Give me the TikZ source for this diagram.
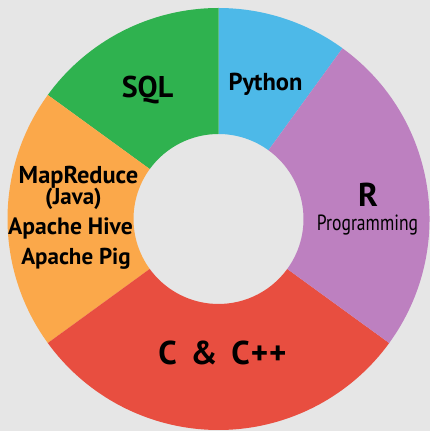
\documentclass[tikz,border=0pt]{standalone}
\usepackage{fontspec}
\setmainfont{PT Sans}
\definecolor{bg}{HTML}{E6E6E6}
\definecolor{cgreen}{HTML}{2FB24F}
\definecolor{cblue}{HTML}{4DB9E8}
\definecolor{cpurple}{HTML}{BD80C0}
\definecolor{cred}{HTML}{E84E40}
\definecolor{corange}{HTML}{FBA84A}
\tikzset{
  lbl/.style={anchor=base, inner sep=0pt, text=black, font=\bfseries},
}
\newcommand{\donutslice}[3]{%
  \fill[#1] (#2:211pt) arc[start angle=#2, end angle=#3, radius=211pt]
    -- (#3:85pt) arc[start angle=#3, end angle=#2, radius=85pt] -- cycle;}
\begin{document}
\begin{tikzpicture}[x=1pt,y=1pt]
\fill[bg] (0,0) rectangle (430,431);
\useasboundingbox (0,0) rectangle (430,431);
\begin{scope}[shift={(218.5,212)}]
  \donutslice{cblue}{54}{90}
  \donutslice{cgreen}{90}{144}
  \donutslice{corange}{144}{216}
  \donutslice{cred}{216}{324}
  \donutslice{cpurple}{-36}{54}
\end{scope}
\node[lbl, font=\bfseries\fontsize{30}{30}\selectfont] (sql) at (147.5,333) {SQL};
\node[lbl, font=\bfseries\fontsize{24.5}{24.5}\selectfont] (py) at (265.5,340.3) {Python};
\node[lbl, font=\bfseries\fontsize{33}{33}\selectfont] (r) at (368,224) {R};
\node[lbl, font=\fontsize{22}{22}\selectfont, xscale=0.8] (prog) at (367.5,200) {Programming};
\node[lbl, font=\bfseries\fontsize{33}{33}\selectfont] (cc) at (222.5,66) {C \,\&\, C\kern1pt+\kern1pt+};
\node[lbl, font=\bfseries\fontsize{24.4}{24.4}\selectfont] (mr) at (78.5,247.7) {MapReduce};
\node[lbl, font=\bfseries\fontsize{23}{23}\selectfont] (java) at (73.5,226) {(Java)};
\node[lbl, font=\bfseries\fontsize{23.6}{23.6}\selectfont] (hive) at (70.5,196.7) {Apache Hive};
\node[lbl, font=\bfseries\fontsize{23}{23}\selectfont] (pig) at (76,166) {Apache Pig};
\end{tikzpicture}
\end{document}
